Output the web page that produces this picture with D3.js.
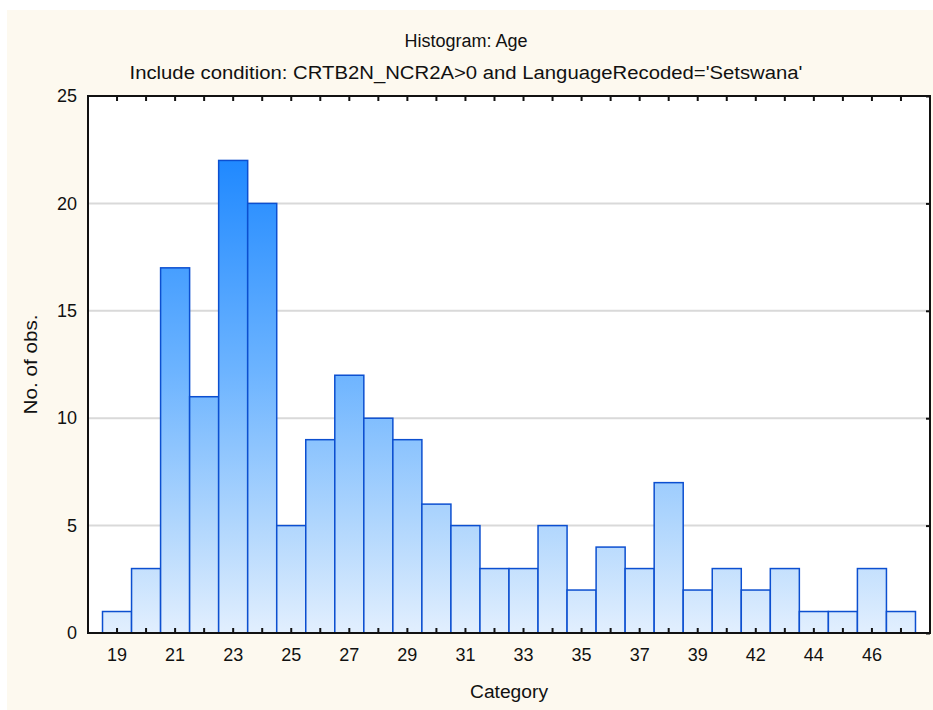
<!DOCTYPE html>
<html><head><meta charset="utf-8">
<script src="https://cdn.jsdelivr.net/npm/d3@7"></script>
<style>body{margin:0;background:#fff;}svg{display:block;font-family:"Liberation Sans",Arial,sans-serif;}</style>
</head><body>
<svg id="c" width="933" height="710"></svg>
<script>
const categories = [19,20,21,22,23,24,25,26,27,28,29,30,31,32,33,34,35,36,37,38,39,40,42,43,44,45,46,47];
const counts = [1,3,17,11,22,20,5,9,12,10,9,6,5,3,3,5,2,4,3,7,2,3,2,3,1,1,3,1];
const labelledCategories = [19,21,23,25,27,29,31,33,35,37,39,42,44,46];
const yTicks = [0,5,10,15,20,25];
const title = "Histogram: Age";
const subtitle = "Include condition: CRTB2N_NCR2A>0 and LanguageRecoded='Setswana'";
const xTitle = "Category";
const yTitle = "No. of obs.";

const svg = d3.select("#c");
const W = 933, H = 710;
const m = {l:88, r:3, t:96, b:77};
const pw = W - m.l - m.r, ph = H - m.t - m.b;
const FF = "Liberation Sans, Arial, sans-serif";

svg.append("rect").attr("x",7).attr("y",10).attr("width",W-7).attr("height",H-10).attr("fill","#fdf9ef");

const x = d3.scaleBand().domain(categories.map(String)).range([m.l, m.l+pw]).paddingInner(0).paddingOuter(0.5);
const y = d3.scaleLinear().domain([0,25]).range([m.t+ph, m.t]);

svg.append("rect").attr("x",m.l).attr("y",m.t).attr("width",pw).attr("height",ph).attr("fill","#fff");

const defs = svg.append("defs");
const g = defs.append("linearGradient").attr("id","bg").attr("gradientUnits","userSpaceOnUse")
  .attr("x1",0).attr("x2",0).attr("y1",y(22)).attr("y2",y(0));
g.append("stop").attr("offset","0%").attr("stop-color","#2089ff");
g.append("stop").attr("offset","45%").attr("stop-color","#6db4ff");
g.append("stop").attr("offset","75%").attr("stop-color","#acd4fd");
g.append("stop").attr("offset","100%").attr("stop-color","#e2effe");

// gridlines
svg.append("g").selectAll("line").data(yTicks.filter(d=>d>0&&d<25)).join("line")
  .attr("x1",m.l).attr("x2",m.l+pw).attr("y1",d=>y(d)).attr("y2",d=>y(d))
  .attr("stroke","#d9d9d9").attr("stroke-width",2);

// bars
svg.append("g").selectAll("rect").data(categories).join("rect")
  .attr("x",(d)=>x(String(d))).attr("width",x.bandwidth())
  .attr("y",(d,i)=>y(counts[i])).attr("height",(d,i)=>y(0)-y(counts[i]))
  .attr("fill","url(#bg)").attr("stroke","#0c4fd0").attr("stroke-width",1.5);

// bottom axis with inward ticks
const xb = d3.axisBottom(x).tickSize(-5).tickFormat(d=>labelledCategories.includes(+d)?d:"").tickPadding(15);
const gx = svg.append("g").attr("transform",`translate(0,${m.t+ph})`).call(xb);
gx.select(".domain").remove();
gx.selectAll("text").attr("font-size",18).attr("fill","#111").attr("font-family",FF);
gx.selectAll("line").attr("stroke","#111").attr("stroke-width",2);

const xt = d3.axisTop(x).tickSize(-5).tickFormat("");
const gxt = svg.append("g").attr("transform",`translate(0,${m.t})`).call(xt);
gxt.select(".domain").remove();
gxt.selectAll("line").attr("stroke","#111").attr("stroke-width",2);

// left axis
const yl = d3.axisLeft(y).tickValues(yTicks).tickSize(0).tickPadding(11);
const gy = svg.append("g").attr("transform",`translate(${m.l},0)`).call(yl);
gy.select(".domain").remove();
gy.selectAll("text").attr("font-size",18).attr("fill","#111").attr("font-family",FF);

const yr = d3.axisRight(y).tickValues(yTicks).tickSize(-4).tickFormat("");
const gyr = svg.append("g").attr("transform",`translate(${m.l+pw},0)`).call(yr);
gyr.select(".domain").remove();
gyr.selectAll("line").attr("stroke","#111").attr("stroke-width",2);

// frame
svg.append("rect").attr("x",m.l).attr("y",m.t).attr("width",pw).attr("height",ph)
  .attr("fill","none").attr("stroke","#111").attr("stroke-width",2);

svg.append("text").attr("x",466).attr("y",47).attr("text-anchor","middle").attr("font-size",18).attr("fill","#111").text(title);
svg.append("text").attr("x",466).attr("y",79).attr("text-anchor","middle").attr("font-size",18).attr("fill","#111")
  .attr("textLength",673).attr("lengthAdjust","spacingAndGlyphs").text(subtitle);
svg.append("text").attr("x",509).attr("y",698).attr("text-anchor","middle").attr("font-size",18).attr("fill","#111")
  .attr("textLength",78).attr("lengthAdjust","spacingAndGlyphs").text(xTitle);
svg.append("text").attr("transform",`translate(37,${m.t+ph/2}) rotate(-90)`).attr("text-anchor","middle").attr("font-size",18).attr("fill","#111")
  .attr("textLength",100).attr("lengthAdjust","spacingAndGlyphs").text(yTitle);
</script>
</body></html>
